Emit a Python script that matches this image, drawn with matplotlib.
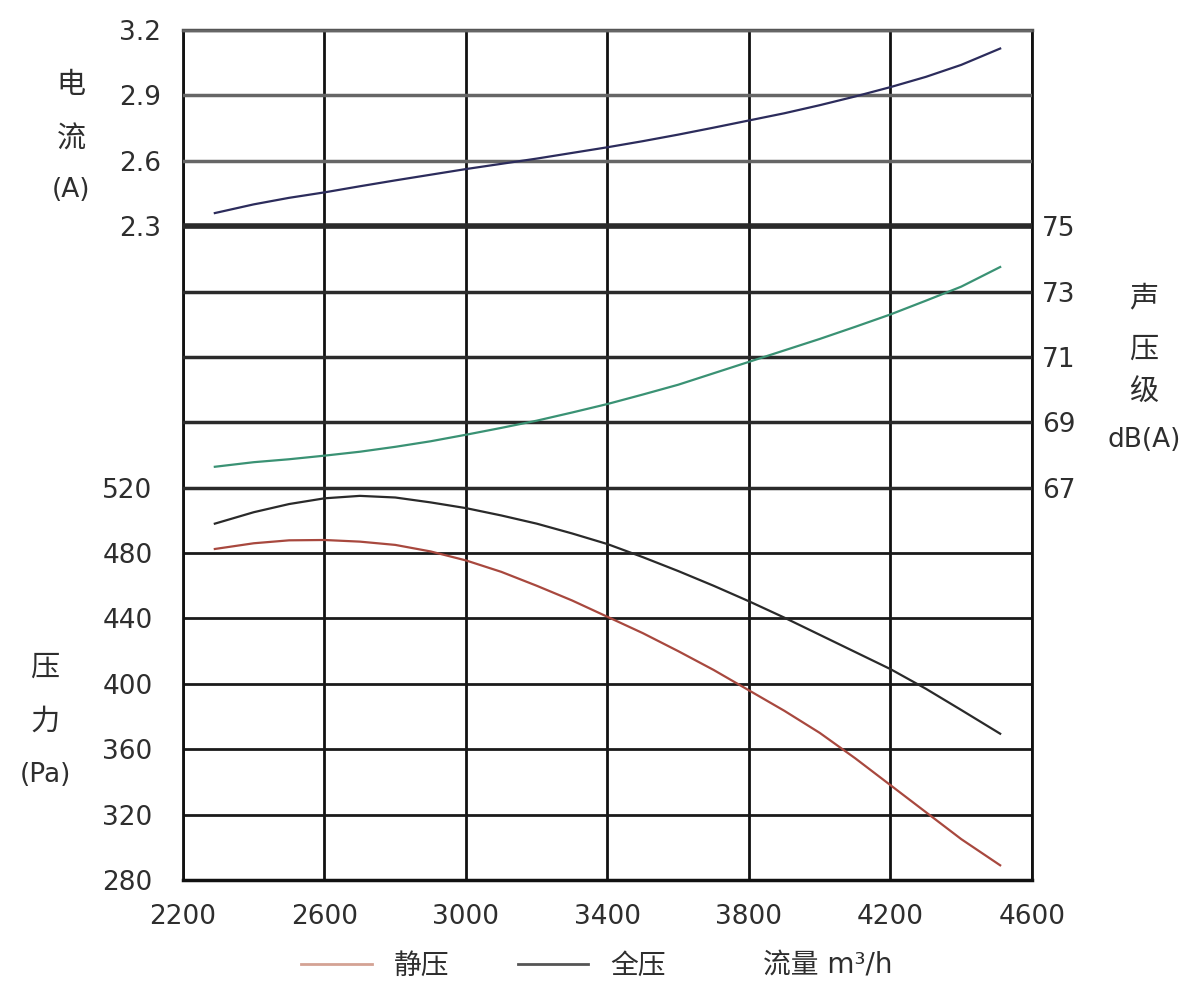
import matplotlib
matplotlib.use("Agg")
import matplotlib.pyplot as plt

plt.rcParams["font.family"] = ["DejaVu Sans", "Noto Sans CJK SC"]

# ── data ───────────────────────────────────────────────────────────────────
flow = [2290, 2400, 2500, 2600, 2700, 2800, 2900, 3000, 3100, 3200, 3300, 3400,
        3500, 3600, 3700, 3800, 3900, 4000, 4100, 4200, 4300, 4400, 4510]
current_a = [2.36, 2.40, 2.43, 2.455, 2.483, 2.51, 2.536, 2.562, 2.586, 2.61,
             2.636, 2.662, 2.69, 2.72, 2.752, 2.785, 2.818, 2.855, 2.895, 2.938,
             2.985, 3.04, 3.115]
noise_db = [67.64, 67.78, 67.87, 67.98, 68.1, 68.25, 68.42, 68.62, 68.83, 69.05,
            69.3, 69.56, 69.85, 70.15, 70.5, 70.85, 71.2, 71.55, 71.92, 72.3,
            72.72, 73.15, 73.75]
total_pa = [498, 505, 510, 513.5, 515, 514, 511, 507.5, 503, 498, 492, 485.5,
            477.5, 469, 460, 450.5, 440.5, 430, 419.5, 409, 397, 384, 369.5]
static_pa = [482.5, 486, 487.8, 488, 487, 485, 481, 475.5, 468.5, 460, 451, 441,
             431, 420, 408.5, 396, 383.5, 370, 354.5, 338, 321.5, 305, 289]

x_ticks = [2200, 2600, 3000, 3400, 3800, 4200, 4600]
pa_ticks = [280, 320, 360, 400, 440, 480, 520]
db_ticks = [67, 69, 71, 73, 75]
a_ticks = [2.3, 2.6, 2.9, 3.2]

TXT = "#2e2e2e"
FS = 19

fig = plt.figure(figsize=(12, 10.06), dpi=100)
ax = fig.add_axes([183 / 1200, 1 - 880 / 1006, 849 / 1200, 850 / 1006])

# pressure axis (bottom block)
ax.set_xlim(2200, 4600)
ax.set_ylim(280, 800)
ax.set_xticks(x_ticks)
ax.set_yticks(pa_ticks)
ax.tick_params(axis="both", length=0, labelsize=FS, labelcolor=TXT)
ax.tick_params(axis="x", pad=17)
ax.tick_params(axis="y", pad=22)
ax.grid(axis="x", color="#111111", linewidth=2)
ax.grid(axis="y", color="#1a1a1a", linewidth=2)

# noise axis (right, middle block)
ax_n = ax.twinx()
ax_n.set_ylim(55, 81)
ax_n.set_yticks(db_ticks)
ax_n.tick_params(axis="y", length=0, labelsize=FS, labelcolor=TXT, pad=7)
ax_n.grid(axis="y", color="#2a2a2a", linewidth=2.5)

# current axis (left, top block)
ax_c = ax.twinx()
ax_c.yaxis.tick_left()
ax_c.set_ylim(-0.7, 3.2)
ax_c.set_yticks(a_ticks)
ax_c.tick_params(axis="y", length=0, labelsize=FS, labelcolor=TXT, pad=16)
ax_c.grid(axis="y", color="#666666", linewidth=2.5)
ax_c.get_ygridlines()[0].set_color("#2a2a2a")
ax_c.get_ygridlines()[0].set_linewidth(4)

for a in (ax_n, ax_c):
    for s in a.spines.values():
        s.set_visible(False)
for name, s in ax.spines.items():
    s.set_color("#111111")
    s.set_linewidth(2)
ax.spines["top"].set_color("#555555")
ax.spines["top"].set_linewidth(2.5)
ax.spines["bottom"].set_linewidth(2.5)

# curves
ax_c.plot(flow, current_a, color="#2c2c5c", linewidth=1.6, zorder=5)
ax_n.plot(flow, noise_db, color="#3a9274", linewidth=1.6, zorder=5)
l_total, = ax.plot(flow, total_pa, color="#2a2a2a", linewidth=1.6, zorder=5)
l_static, = ax.plot(flow, static_pa, color="#a8483e", linewidth=1.6, zorder=5)

# axis titles
def stack(x, ys, words):
    for y, w in zip(ys, words):
        size = FS if w.isascii() else 21
        fig.text(x / 1200, 1 - y / 1006, w, ha="center", va="center",
                 fontsize=size, color=TXT)

stack(71, [85, 140, 190], ["电", "流", "(A)"])
stack(45, [668, 722, 775], ["压", "力", "(Pa)"])
stack(1144, [298, 350, 393, 440], ["声", "压", "级", "dB(A)"])

# legend row
leg = fig.legend([l_static, l_total], ["静压", "全压"], loc="center left",
                 bbox_to_anchor=(287 / 1200, 1 - 966 / 1006), ncol=2,
                 frameon=False, fontsize=20, handlelength=2.55,
                 handletextpad=0.8, columnspacing=2.45, borderpad=0,
                 labelcolor=TXT)
for h in leg.legend_handles:
    h.set_linewidth(2)
leg.legend_handles[0].set_color("#d4a294")
leg.legend_handles[1].set_color("#555555")
fig.text(763 / 1200, 1 - 966 / 1006, "流量 m³/h", ha="left", va="center",
         fontsize=20, color=TXT)

fig.savefig("out.png", dpi=100, facecolor="white")
